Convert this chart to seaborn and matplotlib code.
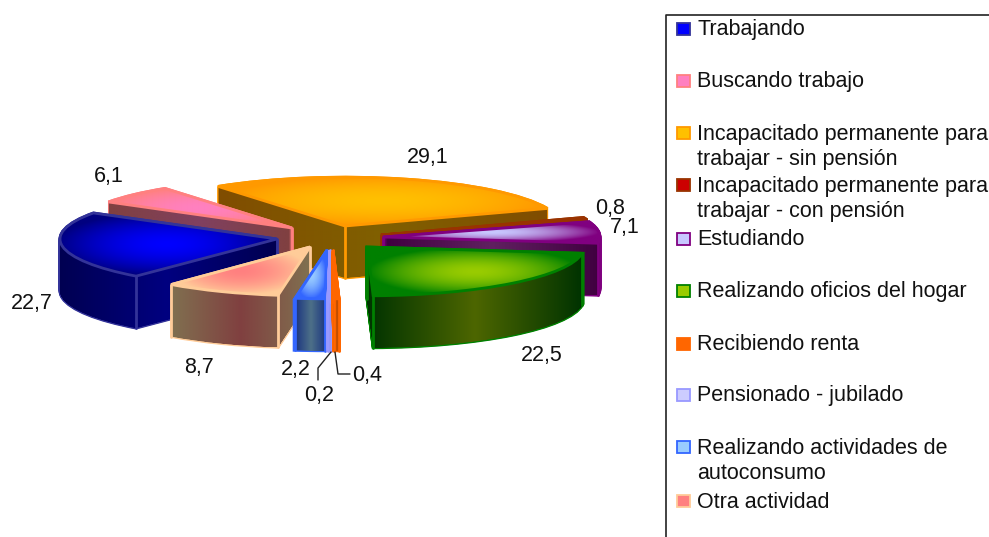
import numpy as np
import matplotlib
matplotlib.use("Agg")
import matplotlib.pyplot as plt
from matplotlib.path import Path
from matplotlib.patches import Rectangle
from matplotlib.colors import to_rgb
import seaborn as sns

# ---- data ----
categories = ["Trabajando", "Buscando trabajo",
              "Incapacitado permanente para\ntrabajar - sin pensión",
              "Incapacitado permanente para\ntrabajar - con pensión",
              "Estudiando", "Realizando oficios del hogar", "Recibiendo renta",
              "Pensionado - jubilado",
              "Realizando actividades de\nautoconsumo", "Otra actividad"]
values = [22.7, 6.1, 29.1, 0.8, 7.1, 22.5, 0.4, 0.2, 2.2, 8.7]
value_labels = ["22,7", "6,1", "29,1", "0,8", "7,1", "22,5", "0,4", "0,2", "2,2", "8,7"]

# ---- style / layout (pixel positions in the 989x537 picture) ----
W, H = 989, 537
SQUASH = 0.225
DEPTH = 52
RADIUS = 217
START = 229.5
apex = [(277, 239), (292, 228), (345, 226), (381, 235), (383, 237),
        (367, 247), (333, 250), (330, 250), (327, 250), (310, 247)]
edge_col = ["#333399", "#FF8080", "#FF9900", "#993300", "#800080",
            "#008000", "#FF6600", "#9999FF", "#3366FF", "#FFCC99"]
top_mid = ["#0000FF", "#FF80C0", "#FFC000", "#CC0000", "#C8C8FF",
           "#99CC00", "#FF6600", "#CCCCFF", "#99CCFF", "#FF8080"]
top_out = ["#000080", "#FF8080", "#FF9900", "#993300", "#800080",
           "#008000", "#FF6600", "#9999FF", "#3366FF", "#FFCC99"]
side_mid = ["#000080", "#804060", "#806000", "#660000", "#602060",
            "#4D6600", "#CC5200", "#8080CC", "#4D7088", "#804040"]
side_out = ["#000050", "#804040", "#804D00", "#4D1A00", "#400040",
            "#003300", "#B34700", "#6666B3", "#1A3380", "#807050"]
draw_order = [2, 3, 4, 1, 0, 5, 9, 8, 7, 6]
label_xy = [(32, 304), (109, 177), (428, 158), (610, 209), (625, 228),
            (542, 356), (367, 376), (319, 396), (296, 369), (199, 367)]
legend_y = [30, 82, 147, 199, 240, 292, 345, 396, 461, 502]
FONT = 15.5

sns.set_theme(style="white")
plt.rcParams["font.family"] = ["Liberation Sans", "DejaVu Sans"]

fig = plt.figure(figsize=(W / 100, H / 100), dpi=100, facecolor="white")
ax = fig.add_axes([0, 0, 1, 1])


def px(x, y):
    return x, (H - y) / SQUASH


def gradient(c_mid, c_out, mode):
    xx, yy = np.meshgrid(np.linspace(-1, 1, 80), np.linspace(-1, 1, 80))
    d = np.abs(xx) if mode == "h" else np.clip(np.hypot(xx, yy), 0, 1) ** 1.7
    d = d[..., None]
    return np.array(to_rgb(c_mid)) * (1 - d) + np.array(to_rgb(c_out)) * d


def paint(path, c_mid, c_out, mode, z):
    v = path.vertices
    im = ax.imshow(gradient(c_mid, c_out, mode), origin="lower",
                   extent=(v[:, 0].min(), v[:, 0].max(), v[:, 1].min(), v[:, 1].max()),
                   aspect="auto", interpolation="bilinear", zorder=z)
    im.set_clip_path(path, transform=ax.transData)


starts = START - np.cumsum([0] + [v * 3.6 for v in values[:-1]])

for rank, i in enumerate(draw_order):
    z = 10 + rank
    cx, cy = px(*apex[i])
    theta = starts[i]
    paths = []
    for d in np.arange(DEPTH, -0.1, -0.5):
        wedges, _ = ax.pie([values[i] / 100], normalize=False, startangle=theta,
                           counterclock=False, radius=RADIUS,
                           center=(cx, cy - d / SQUASH), colors=[edge_col[i]],
                           wedgeprops=dict(edgecolor=edge_col[i], linewidth=2, zorder=z))
        paths.append(wedges[0].get_path())
    paint(Path.make_compound_path(*paths), side_mid[i], side_out[i], "h", z + 0.1)

    # vertical edges at the apex and at the front-facing corners
    corner_angles = [theta, theta - values[i] * 3.6]
    front = [a for a in corner_angles if np.sin(np.radians(a)) < 0]
    xs = [cx] + [cx + RADIUS * np.cos(np.radians(a)) for a in front]
    ys = [cy] + [cy + RADIUS * np.sin(np.radians(a)) for a in front]
    for xv, yv in zip(xs, ys):
        ax.plot([xv, xv], [yv, yv - DEPTH / SQUASH], color=edge_col[i], lw=2, zorder=z + 0.2)

    top, _ = ax.pie([values[i] / 100], normalize=False, startangle=theta,
                    counterclock=False, radius=RADIUS, center=(cx, cy),
                    colors=[top_out[i]], wedgeprops=dict(edgecolor="none", zorder=z + 0.3))
    paint(top[0].get_path(), top_mid[i], top_out[i], "r", z + 0.4)
    rim, _ = ax.pie([values[i] / 100], normalize=False, startangle=theta,
                    counterclock=False, radius=RADIUS, center=(cx, cy),
                    colors=["white"], wedgeprops=dict(edgecolor=edge_col[i], linewidth=2, zorder=z + 0.5))
    rim[0].set_facecolor("none")

# value labels
for (x, y), t in zip(label_xy, value_labels):
    ax.text(*px(x, y), t, ha="center", va="center", fontsize=FONT, color="#111111", zorder=50)

# leader lines of the two smallest slices
ax.plot(*zip(px(331, 352), px(318, 368), px(318, 380)), color="#222222", lw=1, zorder=40)
ax.plot(*zip(px(335, 352), px(338, 374), px(350, 374)), color="#222222", lw=1, zorder=40)

# legend
ax.plot(*zip(px(666, H), px(666, 15), px(W, 15)), color="#222222", lw=1.2, zorder=40)
for lab, y, ec, fc in zip(categories, legend_y, edge_col, top_mid):
    sy = y - 1 if "\n" not in lab else y - 14
    x0, y0 = px(677, sy + 6)
    ax.add_patch(Rectangle((x0, y0), 13, 12 / SQUASH, facecolor=fc, edgecolor=ec, lw=1.3, zorder=40))
    ax.text(*px(697, y), lab, ha="left", va="center", fontsize=FONT, color="#111111",
            linespacing=1.3, zorder=50)

ax.set_aspect("auto")
ax.set_xlim(0, W)
ax.set_ylim(0, H / SQUASH)
ax.axis("off")
fig.savefig("out.png", dpi=100, facecolor="white")
